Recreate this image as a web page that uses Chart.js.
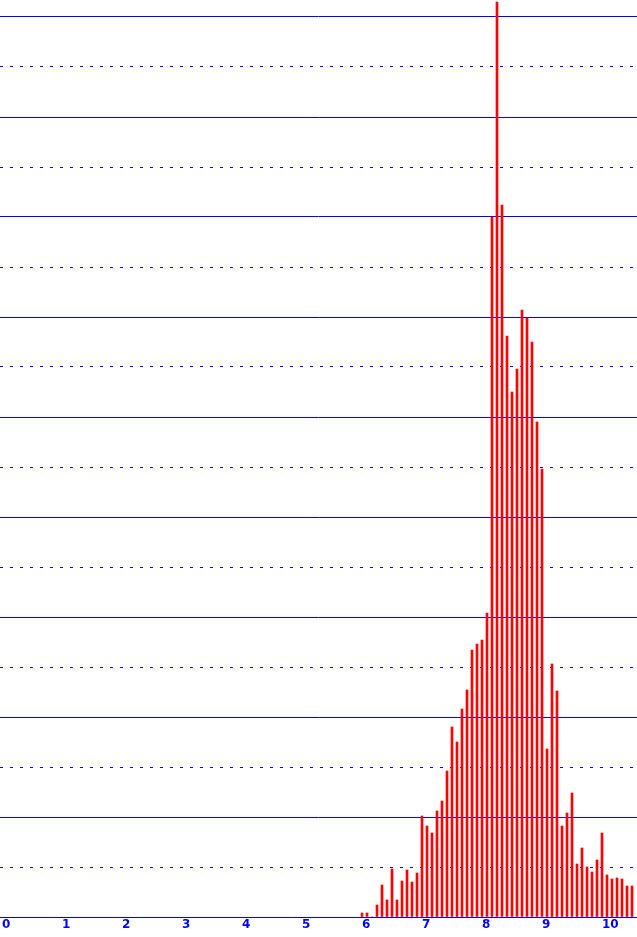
<!DOCTYPE html>
<html>
<head>
<meta charset="utf-8">
<script src="https://cdn.jsdelivr.net/npm/chart.js@4.4.1/dist/chart.umd.min.js"></script>
<style>
  html, body { margin: 0; padding: 0; background: #fff; }
  #wrap { width: 637px; height: 937px; }
</style>
</head>
<body>
<div id="wrap"><canvas id="hist"></canvas></div>
<script>
// histogram bins: first bin at 6, twelve bins per unit
var binStart = 6;
var binsPerUnit = 12;
var counts = [4, 4, 0, 12, 32, 17, 48, 17, 36, 47, 35, 44,
              101, 91, 84, 106, 116, 146, 190, 175, 208, 227, 267, 273,
              277, 304, 700, 915, 712, 581, 525, 548, 607, 599, 575, 495,
              448, 168, 253, 226, 91, 104, 124, 53, 69, 50, 45, 57,
              84, 42, 38, 39, 38, 31, 31];
var xTicks = [0, 1, 2, 3, 4, 5, 6, 7, 8, 9, 10];
var yTicks = [0, 50, 100, 150, 200, 250, 300, 350, 400, 450, 500, 550, 600, 650, 700, 750, 800, 850, 900];

var blue = '#0000ff';

var points = [];
for (var i = 0; i < counts.length; i++) {
	points.push({ x: binStart + i / binsPerUnit, y: counts[i] });
}

var ctx = document.getElementById('hist');

var chart = new Chart(ctx, {
	type: 'bar',
	data: {
		datasets: [{
			data: points,
			backgroundColor: '#ff0000',
			borderWidth: 0,
			barThickness: 2,
			grouped: false
		}]
	},
	options: {
		responsive: true,
		maintainAspectRatio: false,
		animation: false,
		layout: { padding: 0 },
		plugins: {
			legend: { display: false },
			tooltip: { enabled: false }
		},
		scales: {
			x: {
				type: 'linear',
				offset: false,
				min: -2 / 60,
				max: 10.5833,
				afterBuildTicks: function(s) {
					s.ticks = xTicks.map(function(v) { return { value: v }; });
				},
				afterFit: function(s) { s.height = 20; },
				grid: { display: false, drawTicks: false, offset: false },
				border: { display: true, color: blue, width: 1 },
				ticks: {
					color: blue,
					font: { family: 'DejaVu Sans', size: 12, weight: 'bold' },
					padding: 1,
					align: 'start',
					maxRotation: 0,
					autoSkip: false
				}
			},
			y: {
				min: 0,
				max: 917,
				afterBuildTicks: function(s) {
					s.ticks = yTicks.map(function(v) { return { value: v }; });
				},
				afterFit: function(s) { s.width = 0; },
				grid: { color: blue, lineWidth: 1, drawTicks: false },
				border: {
					display: false,
					// solid every 100, dotted in between
					dash: function(c) {
						return (c.tick && c.tick.value % 100) ? [3, 7] : [];
					}
				},
				ticks: { display: false }
			}
		}
	}
});
</script>
</body>
</html>
